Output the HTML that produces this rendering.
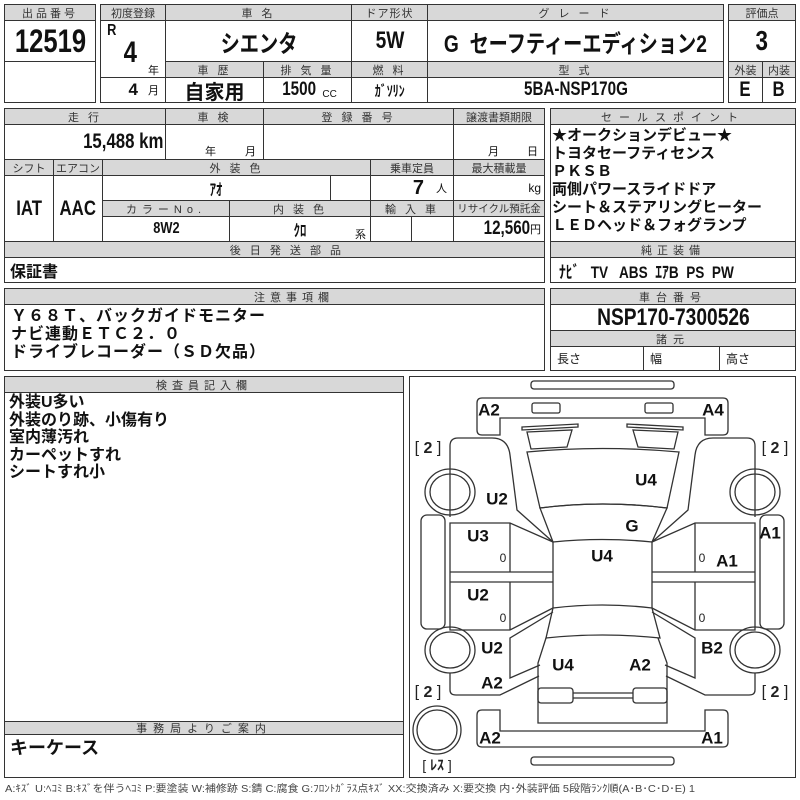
<!DOCTYPE html>
<html><head><meta charset="utf-8">
<style>
*{margin:0;padding:0;box-sizing:border-box}
body{width:800px;height:800px;background:#fff;position:relative;overflow:hidden;font-family:"Liberation Sans","Noto Sans CJK JP",sans-serif;color:#111}
.c,.h{position:absolute;border:1px solid #333;display:flex;align-items:center;justify-content:center;white-space:nowrap}
.h{background:#d8d8d8;font-size:11px;letter-spacing:3px;color:#333}
.b{font-weight:bold}
.t{position:absolute;white-space:nowrap}
.n{display:inline-block;transform:scaleX(.8)}
.list{position:absolute;font-weight:bold;font-size:15px;line-height:18px;white-space:nowrap}
</style></head><body>
<!-- block1 -->
<div class="h" style="left:4px;top:4px;width:92px;height:17px">出品番号</div>
<div class="c b" style="left:4px;top:20px;width:92px;height:42px;font-size:32px"><span class="n">12519</span></div>
<div class="c" style="left:4px;top:61px;width:92px;height:42px"></div>
<!-- block2 -->
<div class="h" style="left:100px;top:4px;width:66px;height:17px;letter-spacing:0">初度登録</div>
<div class="h" style="left:165px;top:4px;width:187px;height:17px">車 名</div>
<div class="h" style="left:351px;top:4px;width:77px;height:17px;letter-spacing:1px">ドア形状</div>
<div class="h" style="left:427px;top:4px;width:297px;height:17px">グ レ ー ド</div>
<div class="c" style="left:100px;top:20px;width:66px;height:58px"></div>
<div class="t b" style="left:106px;top:22px;font-size:16px"><span class="n">R</span></div>
<div class="t b" style="left:122px;top:36px;font-size:30px"><span class="n">4</span></div>
<div class="t" style="left:148px;top:62px;font-size:11px">年</div>
<div class="c" style="left:100px;top:77px;width:66px;height:26px;justify-content:flex-end;padding-right:6px"><b style="font-size:17px;margin-right:10px">4</b><span style="font-size:11px">月</span></div>
<div class="c b" style="left:165px;top:20px;width:187px;height:42px;font-size:24px"><span class="n">シエンタ</span></div>
<div class="c b" style="left:351px;top:20px;width:77px;height:42px;font-size:24px"><span class="n">5W</span></div>
<div class="c b" style="left:427px;top:20px;width:297px;height:42px;font-size:24px"><span class="n">G&nbsp; セーフティーエディション2</span></div>
<div class="h" style="left:165px;top:61px;width:99px;height:17px">車 歴</div>
<div class="h" style="left:263px;top:61px;width:89px;height:17px">排 気 量</div>
<div class="h" style="left:351px;top:61px;width:77px;height:17px">燃 料</div>
<div class="h" style="left:427px;top:61px;width:297px;height:17px">型 式</div>
<div class="c b" style="left:165px;top:77px;width:99px;height:26px;font-size:20px">自家用</div>
<div class="c" style="left:263px;top:77px;width:89px;height:26px"><b style="font-size:19px"><span class="n">1500</span></b><span style="font-size:10px;margin-left:2px;margin-top:8px">CC</span></div>
<div class="c b" style="left:351px;top:77px;width:77px;height:26px;font-size:15px"><span class="n">ｶﾞｿﾘﾝ</span></div>
<div class="c b" style="left:427px;top:77px;width:297px;height:26px;font-size:19px"><span class="n">5BA-NSP170G</span></div>
<!-- block3 -->
<div class="h" style="left:728px;top:4px;width:68px;height:17px;letter-spacing:0">評価点</div>
<div class="c b" style="left:728px;top:20px;width:68px;height:42px;font-size:28px"><span class="n">3</span></div>
<div class="h" style="left:728px;top:61px;width:35px;height:17px;letter-spacing:0">外装</div>
<div class="h" style="left:762px;top:61px;width:34px;height:17px;letter-spacing:0">内装</div>
<div class="c b" style="left:728px;top:77px;width:35px;height:26px;font-size:21px"><span class="n">E</span></div>
<div class="c b" style="left:762px;top:77px;width:34px;height:26px;font-size:21px"><span class="n">B</span></div>
<!-- section2 -->
<div class="h" style="left:4px;top:108px;width:162px;height:17px">走 行</div>
<div class="h" style="left:165px;top:108px;width:99px;height:17px">車 検</div>
<div class="h" style="left:263px;top:108px;width:191px;height:17px">登 録 番 号</div>
<div class="h" style="left:453px;top:108px;width:92px;height:17px;letter-spacing:0">譲渡書類期限</div>
<div class="c b" style="left:4px;top:124px;width:162px;height:36px;justify-content:flex-end;padding-right:2px;font-size:21px"><span class="n" style="transform-origin:right">15,488 km</span></div>
<div class="c" style="left:165px;top:124px;width:99px;height:36px"></div>
<div class="t" style="left:205px;top:143px;font-size:11px">年</div>
<div class="t" style="left:245px;top:143px;font-size:11px">月</div>
<div class="c" style="left:263px;top:124px;width:191px;height:36px"></div>
<div class="c" style="left:453px;top:124px;width:92px;height:36px"></div>
<div class="t" style="left:488px;top:143px;font-size:11px">月</div>
<div class="t" style="left:527px;top:143px;font-size:11px">日</div>
<div class="h" style="left:4px;top:159px;width:50px;height:17px;letter-spacing:0">シフト</div>
<div class="h" style="left:53px;top:159px;width:50px;height:17px;letter-spacing:0">エアコン</div>
<div class="h" style="left:102px;top:159px;width:269px;height:17px">外 装 色</div>
<div class="h" style="left:370px;top:159px;width:84px;height:17px;letter-spacing:0">乗車定員</div>
<div class="h" style="left:453px;top:159px;width:92px;height:17px;letter-spacing:0">最大積載量</div>
<div class="c b" style="left:4px;top:175px;width:50px;height:67px;font-size:21px"><span class="n">IAT</span></div>
<div class="c b" style="left:53px;top:175px;width:50px;height:67px;font-size:21px"><span class="n">AAC</span></div>
<div class="c b" style="left:102px;top:175px;width:229px;height:26px;font-size:16px"><span class="n">ｱｵ</span></div>
<div class="c" style="left:330px;top:175px;width:41px;height:26px"></div>
<div class="c" style="left:370px;top:175px;width:84px;height:26px;justify-content:flex-end;padding-right:6px"><b style="font-size:20px;margin-right:12px">7</b><span style="font-size:11px">人</span></div>
<div class="c" style="left:453px;top:175px;width:92px;height:26px;justify-content:flex-end;padding-right:3px;font-size:12px">kg</div>
<div class="h" style="left:102px;top:200px;width:128px;height:17px;letter-spacing:5px">カラーNo.</div>
<div class="h" style="left:229px;top:200px;width:142px;height:17px">内 装 色</div>
<div class="h" style="left:370px;top:200px;width:84px;height:17px">輸 入 車</div>
<div class="h" style="left:453px;top:200px;width:92px;height:17px;letter-spacing:0;font-size:10.5px">リサイクル預託金</div>
<div class="c b" style="left:102px;top:216px;width:128px;height:26px;font-size:16px"><span class="n">8W2</span></div>
<div class="c b" style="left:229px;top:216px;width:142px;height:26px;font-size:16px"><span class="n">ｸﾛ</span></div>
<div class="t" style="left:355px;top:226px;font-size:11px">系</div>
<div class="c" style="left:370px;top:216px;width:42px;height:26px"></div>
<div class="c" style="left:411px;top:216px;width:43px;height:26px"></div>
<div class="c" style="left:453px;top:216px;width:92px;height:26px;justify-content:flex-end;padding-right:3px"><b style="font-size:19px"><span class="n" style="transform-origin:right">12,560</span></b><span style="font-size:11px">円</span></div>
<div class="h" style="left:4px;top:241px;width:541px;height:17px;justify-content:flex-end;padding-right:200px">後 日 発 送 部 品</div>
<div class="c b" style="left:4px;top:257px;width:541px;height:26px;justify-content:flex-start;padding-left:5px;font-size:16px">保証書</div>
<div class="h" style="left:550px;top:108px;width:246px;height:17px;letter-spacing:7px">セールスポイント</div>
<div class="c" style="left:550px;top:124px;width:246px;height:118px"></div>
<div class="list" style="left:552px;top:127px">★オークションデビュー★<br>トヨタセーフティセンス<br>ＰＫＳＢ<br>両側パワースライドドア<br>シート＆ステアリングヒーター<br>ＬＥＤヘッド＆フォグランプ</div>
<div class="h" style="left:550px;top:241px;width:246px;height:17px;letter-spacing:5px">純正装備</div>
<div class="c b" style="left:550px;top:257px;width:246px;height:26px;justify-content:flex-start;padding-left:8px;font-size:17px"><span class="n" style="transform-origin:left">ﾅﾋﾞ&nbsp;&nbsp; TV&nbsp;&nbsp; ABS&nbsp; ｴｱB&nbsp; PS&nbsp; PW</span></div>
<!-- section3 -->
<div class="h" style="left:4px;top:288px;width:541px;height:17px;justify-content:flex-end;padding-right:210px;letter-spacing:5px">注意事項欄</div>
<div class="c" style="left:4px;top:304px;width:541px;height:67px"></div>
<div class="list" style="left:11px;top:308px;font-size:16px;line-height:18px;letter-spacing:1px">Ｙ６８Ｔ、バックガイドモニター<br>ナビ連動ＥＴＣ２．０<br>ドライブレコーダー（ＳＤ欠品）</div>
<div class="h" style="left:550px;top:288px;width:246px;height:17px;letter-spacing:6px">車台番号</div>
<div class="c b" style="left:550px;top:304px;width:246px;height:27px;font-size:24px"><span class="n">NSP170-7300526</span></div>
<div class="h" style="left:550px;top:330px;width:246px;height:17px;letter-spacing:6px">諸元</div>
<div class="c" style="left:550px;top:346px;width:94px;height:25px;justify-content:flex-start;padding-left:6px;font-size:12px">長さ</div>
<div class="c" style="left:643px;top:346px;width:77px;height:25px;justify-content:flex-start;padding-left:6px;font-size:12px">幅</div>
<div class="c" style="left:719px;top:346px;width:77px;height:25px;justify-content:flex-start;padding-left:6px;font-size:12px">高さ</div>
<!-- section4 -->
<div class="h" style="left:4px;top:376px;width:400px;height:17px;letter-spacing:5px">検査員記入欄</div>
<div class="c" style="left:4px;top:392px;width:400px;height:330px"></div>
<div class="list" style="left:9px;top:394px;font-size:16px;line-height:17.5px">外装U多い<br>外装のり跡、小傷有り<br>室内薄汚れ<br>カーペットすれ<br>シートすれ小</div>
<div class="h" style="left:4px;top:721px;width:400px;height:14px;letter-spacing:6px">事務局よりご案内</div>
<div class="c" style="left:4px;top:734px;width:400px;height:44px"></div>
<div class="list" style="left:10px;top:737px;font-size:18px;line-height:22px">キーケース</div>
<div class="c" style="left:409px;top:376px;width:387px;height:402px"></div>
<svg width="800" height="800" style="position:absolute;left:0;top:0" font-family="Liberation Sans, Noto Sans CJK JP, sans-serif">
<g fill="none" stroke="#333" stroke-width="1.3">
<rect x="531" y="381" width="143" height="8" rx="3"/>
<rect x="531" y="757" width="143" height="8" rx="3"/>
<path d="M482,398 L723,398 Q728,398 728,403 L728,430 Q728,435 723,435 L705,435 L705,418 L500,418 L500,435 L482,435 Q477,435 477,430 L477,403 Q477,398 482,398Z"/>
<rect x="532" y="403" width="28" height="10" rx="2"/>
<rect x="645" y="403" width="28" height="10" rx="2"/>
<path d="M482,747 L723,747 Q728,747 728,742 L728,715 Q728,710 723,710 L705,710 L705,731 L500,731 L500,710 L482,710 Q477,710 477,715 L477,742 Q477,747 482,747Z"/>
<path d="M527,452 Q602,445 679,452 L667,508 Q602,500 540,508 Z"/>
<path d="M540,508 Q602,500 667,508 L652,542 Q602,537 553,542 Z"/>
<path d="M553,542 L553,608 M652,542 L652,608"/>
<path d="M553,608 Q602,602 652,608 L660,638 Q602,632 546,638 Z"/>
<path d="M546,638 L538,663 L538,723 L667,723 L667,663 L658,638"/>
<rect x="538" y="688" width="35" height="15" rx="3"/>
<rect x="633" y="688" width="34" height="15" rx="3"/>
<path d="M573,693 L633,693 M573,698 L633,698"/>
<g id="L">
<path d="M522,427 L578,424 L578,427 L522,430 Z"/>
<path d="M527,432 L572,430 L567,447 L531,449 Z"/>
<path d="M450,517 L450,446 Q450,438 458,438 L492,438 Q508,438 510,455 L517,510 L553,542"/>
<ellipse cx="450" cy="492" rx="25" ry="23"/>
<ellipse cx="450" cy="492" rx="20" ry="18"/>
<path d="M553,542 L510,523 L450,523 L450,630 L510,630 L553,608 M510,523 L510,572 M450,572 L553,572 M450,582 L553,582 M510,582 L510,630"/>
<rect x="421" y="515" width="24" height="114" rx="6"/>
<ellipse cx="450" cy="650" rx="25" ry="23"/>
<ellipse cx="450" cy="650" rx="20" ry="18"/>
<path d="M553,612 L510,638 L510,678 L540,665 M450,673 L450,690 Q450,695 456,695 L500,695 L539,676"/>
</g>
<use href="#L" transform="matrix(-1 0 0 1 1205 0)"/>
<ellipse cx="437" cy="730" rx="24" ry="24"/>
<ellipse cx="437" cy="730" rx="20" ry="20"/>
</g>
<g font-weight="bold" font-size="17" fill="#111" text-anchor="middle" dominant-baseline="central">
<text x="489" y="410">A2</text><text x="713" y="410">A4</text>
<text x="646" y="480">U4</text><text x="497" y="499">U2</text>
<text x="632" y="526">G</text><text x="478" y="536">U3</text>
<text x="770" y="533">A1</text><text x="602" y="556">U4</text>
<text x="727" y="561">A1</text><text x="478" y="595">U2</text>
<text x="492" y="648">U2</text><text x="712" y="648">B2</text>
<text x="563" y="665">U4</text><text x="640" y="665">A2</text>
<text x="492" y="683">A2</text><text x="490" y="738">A2</text>
<text x="712" y="738">A1</text>
</g>
<g font-size="12" fill="#222" text-anchor="middle" dominant-baseline="central">
<text x="503" y="558">0</text><text x="702" y="558">0</text>
<text x="503" y="618">0</text><text x="702" y="618">0</text>
</g>
<g font-size="16" fill="#222" text-anchor="middle" dominant-baseline="central">
<text x="428" y="448">[ <tspan font-weight="bold">2</tspan> ]</text>
<text x="775" y="448">[ <tspan font-weight="bold">2</tspan> ]</text>
<text x="428" y="692">[ <tspan font-weight="bold">2</tspan> ]</text>
<text x="775" y="692">[ <tspan font-weight="bold">2</tspan> ]</text>
<text x="437" y="765" font-size="14">[ <tspan font-weight="bold">ﾚｽ</tspan> ]</text>
</g>
<text x="5" y="792" font-size="10" fill="#444" textLength="690" lengthAdjust="spacingAndGlyphs">A:ｷｽﾞ U:ﾍｺﾐ B:ｷｽﾞを伴うﾍｺﾐ P:要塗装 W:補修跡 S:錆 C:腐食 G:ﾌﾛﾝﾄｶﾞﾗｽ点ｷｽﾞ XX:交換済み X:要交換 内･外装評価 5段階ﾗﾝｸ順(A･B･C･D･E) 1</text>
</svg>
</body></html>
